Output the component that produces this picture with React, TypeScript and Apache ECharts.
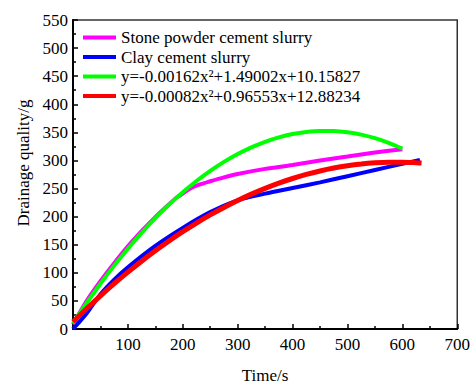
import React, { useEffect, useRef } from "react";
import * as echarts from "echarts";

const seriesNames = [
  "Stone powder cement slurry",
  "Clay cement slurry",
  "y=-0.00162x²+1.49002x+10.15827",
  "y=-0.00082x²+0.96553x+12.88234",
];
const seriesColors = ["#ff00ff", "#0000ff", "#00ff00", "#ff0000"];
const seriesWidths = [4, 4, 4, 5];

const magentaX = [0, 25, 50, 75, 100, 125, 150, 175, 190, 200, 215, 230, 250, 275, 300, 350, 400, 450, 500, 550, 600];
const magentaY = [8, 50, 85, 117, 147, 174, 199, 222, 235, 241, 251, 257, 263, 270, 276, 285, 292, 300, 307, 314, 320];

const blueX = [0, 25, 50, 75, 100, 150, 200, 250, 300, 350, 400, 450, 500, 550, 600, 632];
const blueY = [0, 28, 62, 88, 110, 148, 180, 208, 229, 241, 251, 261, 272, 283, 294, 301];

const greenX = [0, 25, 50, 75, 100, 125, 150, 175, 200, 225, 250, 275, 300, 325, 350, 375, 400, 425, 450, 475, 500, 525, 550, 575, 600];
const greenY = [10.16, 46.4, 80.61, 112.8, 142.96, 171.1, 197.21, 221.3, 243.36, 263.4, 281.42, 297.41, 311.37, 323.31, 333.22, 341.11, 346.97, 350.81, 352.62, 352.41, 350.17, 345.91, 339.62, 331.31, 320.97];

const redX = [0, 25, 50, 75, 100, 125, 150, 175, 200, 225, 250, 275, 300, 325, 350, 375, 400, 425, 450, 475, 500, 525, 550, 575, 600, 625, 635];
const redY = [12.88, 36.51, 59.11, 80.68, 101.23, 120.76, 139.26, 156.74, 173.19, 188.61, 203.01, 216.39, 228.74, 240.07, 250.37, 259.64, 267.89, 275.12, 281.32, 286.5, 290.65, 293.77, 295.87, 296.95, 297.0, 296.03, 295.34];

const allX = [magentaX, blueX, greenX, redX];
const allY = [magentaY, blueY, greenY, redY];

const xTicks = { min: 0, max: 700, interval: 100 };
const yTicks = { min: 0, max: 550, interval: 50 };

const xTitle = "Time/s";
const yTitle = "Drainage quality/g";

const FONT = "'Liberation Serif', 'Times New Roman', serif";

export default function App() {
  const ref = useRef<HTMLDivElement>(null);
  useEffect(() => {
    if (!ref.current) return;
    const chart = echarts.init(ref.current, undefined, { renderer: "svg" });
    const axisCommon = {
      axisLine: { show: true, lineStyle: { color: "#000", width: 2 } },
      axisTick: { show: true, inside: true, length: 5, lineStyle: { color: "#000", width: 1.5 } },
      minorTick: { show: true, splitNumber: 2, length: 3, lineStyle: { color: "#000", width: 1.5 } },
      splitLine: { show: false },
    };
    chart.setOption({
      animation: false,
      backgroundColor: "#fff",
      textStyle: { fontFamily: FONT },
      grid: {
        left: 73,
        top: 20,
        right: 13,
        bottom: 61,
        show: true,
        borderColor: "#333",
        borderWidth: 1.5,
        backgroundColor: "transparent",
      },
      legend: {
        orient: "vertical",
        left: 83,
        top: 29,
        padding: 0,
        icon: "rect",
        itemWidth: 33,
        itemHeight: 4,
        itemGap: 2.5,
        data: seriesNames,
        textStyle: { fontFamily: FONT, fontSize: 17, color: "#000", lineHeight: 17 },
      },
      xAxis: {
        type: "value",
        ...xTicks,
        ...axisCommon,
        axisLabel: {
          fontFamily: FONT,
          fontSize: 17,
          color: "#000",
          margin: 7,
          formatter: (v: number) => (v === 0 ? "" : String(v)),
        },
        name: xTitle,
        nameLocation: "middle",
        nameGap: 38,
        nameTextStyle: { fontFamily: FONT, fontSize: 17, color: "#000" },
      },
      yAxis: {
        type: "value",
        ...yTicks,
        ...axisCommon,
        axisLabel: { fontFamily: FONT, fontSize: 17, color: "#000", margin: 5 },
      },
      graphic: [
        {
          type: "text",
          x: 23,
          y: 163,
          rotation: Math.PI / 2,
          style: {
            text: yTitle,
            fontFamily: FONT,
            fontSize: 17,
            fill: "#000",
            align: "center",
            verticalAlign: "middle",
          },
        },
      ],
      series: seriesNames.map((name, i) => ({
        name,
        type: "line",
        smooth: 0.3,
        showSymbol: false,
        symbol: "none",
        color: seriesColors[i],
        lineStyle: { color: seriesColors[i], width: seriesWidths[i] },
        data: allX[i].map((x, j) => [x, allY[i][j]]),
      })),
    });
    return () => chart.dispose();
  }, []);
  return <div ref={ref} style={{ width: 473, height: 390, position: "absolute", left: 0, top: 0 }} />;
}
